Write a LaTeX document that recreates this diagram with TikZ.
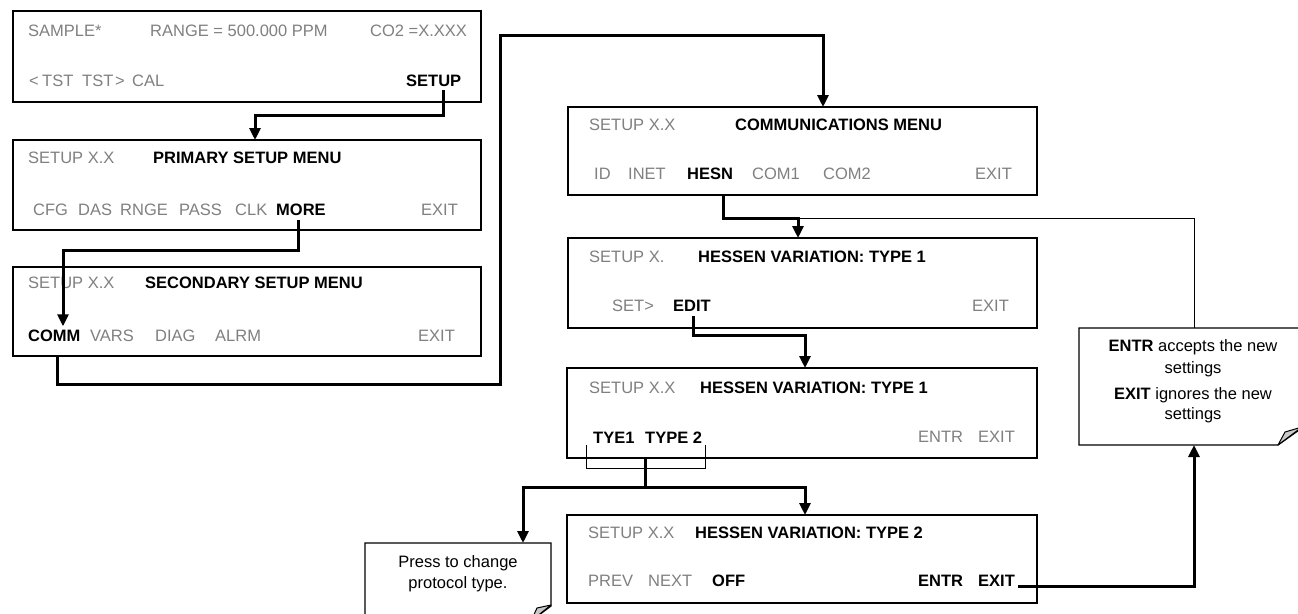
\documentclass[tikz,border=0pt]{standalone}
\usepackage{fontspec}
\setmainfont{Liberation Sans}
\usetikzlibrary{arrows.meta,calc}
\definecolor{gtext}{RGB}{128,128,128}
\definecolor{foldgray}{RGB}{200,200,200}
\newcommand\fsz{\fontsize{16.5}{19}\selectfont}
\begin{document}
\begin{tikzpicture}[x=1pt,y=-1pt,
  panel/.style={draw, line width=1.2pt, anchor=north west, inner sep=0pt, outer sep=0pt},
  gt/.style={font=\fsz, text=gtext, inner sep=0pt, anchor=base west},
  bt/.style={font=\fsz\bfseries, text=black, inner sep=0pt, anchor=base west},
  nt/.style={font=\fsz, text=black, inner sep=0pt, anchor=base},
  arr/.style={line width=3pt, -{Triangle[width=11pt,length=12pt]}},
  thinline/.style={line width=1pt},
  notebox/.style={line width=1.2pt},
  flap/.style={fill=foldgray, draw, line width=1pt, line join=round}]
\useasboundingbox (0,0) rectangle (1298,613);
\fill[white] (0,0) rectangle (1298,613);
\clip (0,0) rectangle (1298,613);

% panels
\node[panel, minimum width=468pt, minimum height=91pt] (p1) at (13,11) {};
\node[panel, minimum width=468pt, minimum height=90pt] (p2) at (13,140) {};
\node[panel, minimum width=468pt, minimum height=89pt] (p3) at (13,267) {};
\node[panel, minimum width=469pt, minimum height=88pt] (p4) at (568,107) {};
\node[panel, minimum width=469pt, minimum height=90pt] (p5) at (568,238) {};
\node[panel, minimum width=470pt, minimum height=90pt] (p6) at (567,368) {};
\node[panel, minimum width=470pt, minimum height=88pt] (p7) at (567,515) {};

% panel 1
\node[gt] (t1a) at (28,36) {SAMPLE*};
\node[gt] (t1b) at (150,36) {RANGE = 500.000 PPM};
\node[gt] (t1c) at (370,36) {CO2 =X.XXX};
\node[gt] (t1d) at (29,86) {<};
\node[gt] (t1e) at (42,86) {TST};
\node[gt] (t1f) at (82,86) {TST};
\node[gt] (t1g) at (115,86) {>};
\node[gt] (t1h) at (132,86) {CAL};
\node[bt] (s1) at (406,86) {SETUP};

% panel 2
\node[gt] (t2a) at (28,163) {SETUP X.X};
\node[bt] (t2b) at (153,163) {PRIMARY SETUP MENU};
\node[gt] (t2c) at (33,215) {CFG};
\node[gt] (t2d) at (78,215) {DAS};
\node[gt] (t2e) at (120,215) {RNGE};
\node[gt] (t2f) at (179,215) {PASS};
\node[gt] (t2g) at (235,215) {CLK};
\node[bt] (more) at (276,215) {MORE};
\node[gt] (t2h) at (421,215) {EXIT};

% panel 3
\node[gt] (t3a) at (28,288) {SETUP X.X};
\node[bt] (t3b) at (145,288) {SECONDARY SETUP MENU};
\node[bt] (comm) at (28,341) {COMM};
\node[gt] (t3c) at (90,341) {VARS};
\node[gt] (t3d) at (155,341) {DIAG};
\node[gt] (t3e) at (215,341) {ALRM};
\node[gt] (t3f) at (418,341) {EXIT};

% panel 4
\node[gt] (t4a) at (589,130) {SETUP X.X};
\node[bt] (t4b) at (735,130) {COMMUNICATIONS MENU};
\node[gt] (t4c) at (594,179) {ID};
\node[gt] (t4d) at (628,179) {INET};
\node[bt] (hesn) at (687,179) {HESN};
\node[gt] (t4e) at (752,179) {COM1};
\node[gt] (t4f) at (823,179) {COM2};
\node[gt] (t4g) at (975,179) {EXIT};

% panel 5
\node[gt] (t5a) at (589,262) {SETUP X.};
\node[bt] (t5b) at (698,262) {HESSEN VARIATION: TYPE 1};
\node[gt] (t5c) at (612,311) {SET>};
\node[bt] (edit) at (673,311) {EDIT};
\node[gt] (t5d) at (972,311) {EXIT};

% panel 6
\node[gt] (t6a) at (589,393) {SETUP X.X};
\node[bt] (t6b) at (700,393) {HESSEN VARIATION: TYPE 1};
\node[bt] (tye) at (593,443) {TYE1};
\node[bt] (typ2) at (645,443) {TYPE 2};
\node[gt] (t6c) at (918,442) {ENTR};
\node[gt] (t6d) at (978,442) {EXIT};

% panel 7
\node[gt] (t7a) at (588,538) {SETUP X.X};
\node[bt] (t7b) at (695,538) {HESSEN VARIATION: TYPE 2};
\node[gt] (t7c) at (588,586) {PREV};
\node[gt] (t7d) at (648,586) {NEXT};
\node[bt] (t7e) at (712,586) {OFF};
\node[bt] (t7f) at (918,586) {ENTR};
\node[bt] (exit7) at (978,586) {EXIT};

% note 1 (right)
\draw[notebox] (1302,328) -- (1079,328) -- (1079,445) -- (1278,445) -- (1302,428);
\draw[flap] (1278,445) -- (1285,432) -- (1302,427) -- cycle;
\coordinate (n1top) at (1194,328);
\coordinate (n1bot) at (1194,445);
\node[nt] (nt1a) at (1193,351) {\textbf{ENTR} accepts the new};
\node[nt] (nt1b) at (1193,373) {settings};
\node[nt] (nt1c) at (1193,399) {\textbf{EXIT} ignores the new};
\node[nt] (nt1d) at (1193,419) {settings};

% note 2 (bottom)
\draw[notebox] (365,630) -- (365,543) -- (551,543) -- (551,606) -- (531,621);
\draw[flap] (531,621) -- (537,608) -- (551,605) -- cycle;
\coordinate (n2top) at (523,543);
\node[nt] (nt2a) at (458,567) {Press to change};
\node[nt] (nt2b) at (458,588) {protocol type.};

% connectors
\draw[arr] ($(s1.south -| 443,0)+(0,4)$) |- (255,115) -- (p2.north -| 255,0);
\draw[arr] ($(more.south -| 298,0)+(0,5)$) |- (63,250) -- ($(comm.north -| 63,0)+(0,-3)$);
\draw[arr] (p3.south -| 57,0) |- (500,384) |- (823,35) -- (p4.north -| 823,0);
\draw[arr] (p4.south -| 723,0) |- (798,218) -- (p5.north -| 798,0);
\draw[thinline] (n1top) |- (798,218);
\draw[arr] ($(edit.south -| 693,0)+(0,5)$) |- (805,335) -- (p6.north -| 805,0);
\draw[thinline] ($(tye.south west)+(-7,2)$) |- ($(typ2.south east)+(3,25)$) -- ($(typ2.south east)+(3,2)$);
\coordinate (j6) at (645,487);
\draw[arr] (p6.south -| 645,0) |- (n2top |- j6) -- (n2top);
\draw[arr] (j6) -| (p7.north -| 805,0);
\draw[arr] ($(exit7.base east)+(3,0)$) -| (n1bot);
\end{tikzpicture}
\end{document}
